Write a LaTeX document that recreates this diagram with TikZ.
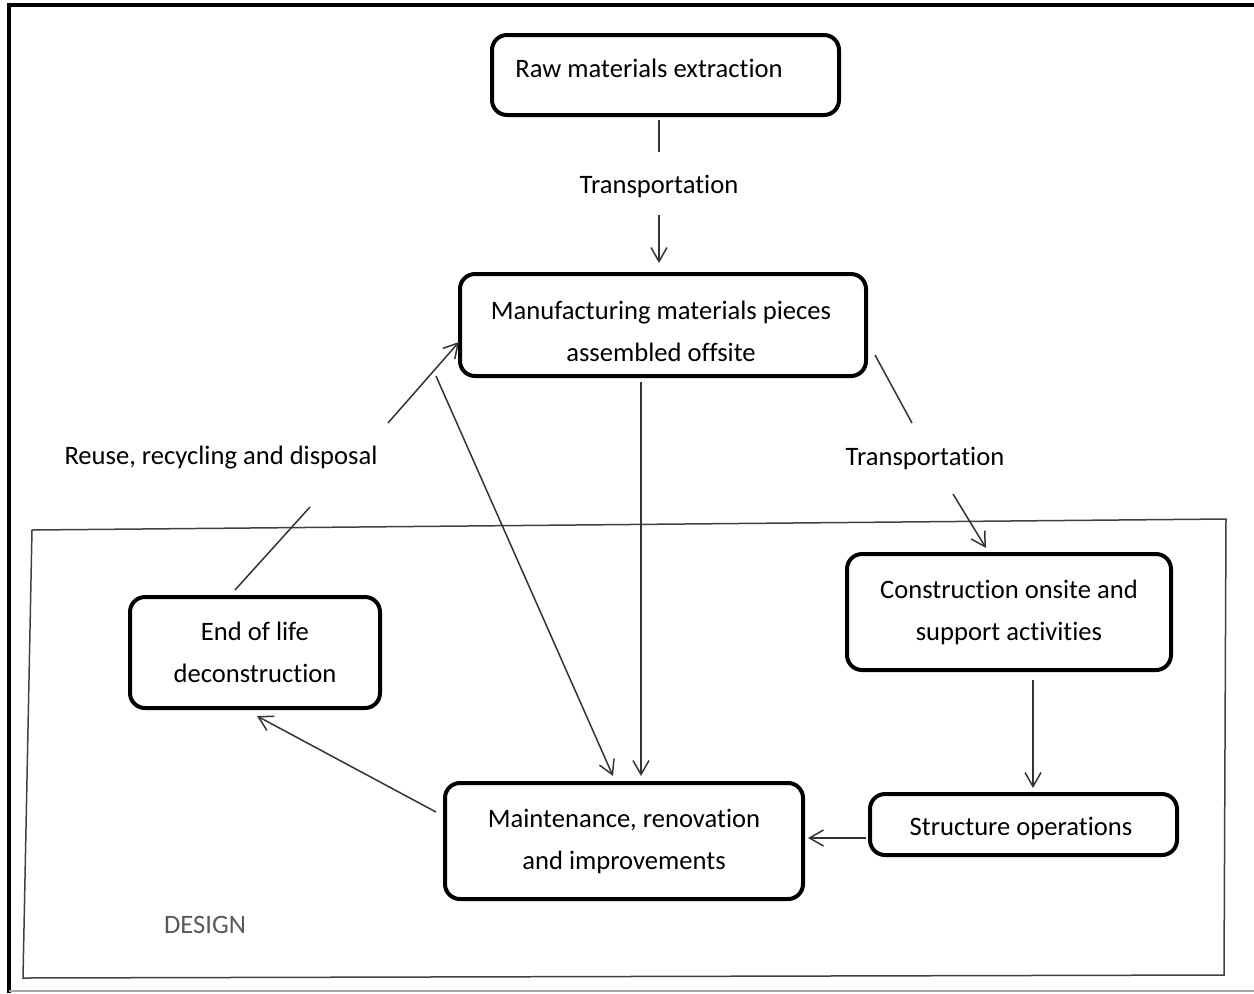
\documentclass[tikz,border=0pt]{standalone}
\usepackage{fontspec}
\setmainfont{Carlito}[Ligatures=NoCommon]
\usetikzlibrary{arrows.meta,calc}
\begin{document}
\begin{tikzpicture}[x=0.5pt,y=-0.5pt,
  every node/.style={font=\fontsize{13.3}{21}\selectfont, text=black},
  box/.style={draw=black, line width=2pt, rounded corners=7.5pt, inner sep=0pt, align=center},
  lbl/.style={inner sep=0pt, align=center},
  conn/.style={draw=black!80, line width=0.75pt},
  arr/.style={conn, -{Straight Barb[length=7pt,width=8pt,line width=0.75pt]}},
  frame/.style={draw=black, line width=2pt},
  design/.style={draw=black!75, line width=0.75pt}
]
\useasboundingbox (0,0) rectangle (1254,993);
% outer frame
\draw[frame] (9,993) -- (9,5) -- (1254,5);
\draw[draw=black!35, line width=0.6pt] (9,991) -- (1254,991);
% design area
\draw[design] (32,530) -- (1226,519) -- (1224,975) -- (23,978) -- cycle;
\node[lbl, text=black!65] (design) at (205,925) {DESIGN};

% boxes
\node[box, minimum width=173.5pt, minimum height=40pt] (raw) at (665.5,75) {};
\node[lbl] (rawtxt) at (649,68) {Raw materials extraction};
\node[box, minimum width=203pt, minimum height=51pt] (manu) at (663,325) {};
\node[lbl] (manutxt) at (661,331) {Manufacturing materials pieces\\ assembled offsite};
\node[box, minimum width=125pt, minimum height=55.5pt] (eol) at (255,652.5)
  {End of life\\ deconstruction};
\node[box, minimum width=162pt, minimum height=58pt] (cons) at (1009,612)
  {Construction onsite and\\ support activities};
\node[box, minimum width=153.5pt, minimum height=30.5pt] (struct) at (1023.5,824.5) {};
\node[lbl] (structtxt) at (1021,828) {Structure operations};
\node[box, minimum width=179pt, minimum height=58pt] (maint) at (624,841)
  {Maintenance, renovation\\ and improvements};

% labels
\node[lbl] (t1) at (659,186) {Transportation};
\node[lbl] (t2) at (925,458) {Transportation};
\node[lbl] (reuse) at (221,458) {Reuse, recycling and disposal};

% connectors
\draw[conn] ($(raw.south)+(-6.5,3)$) -- ($(t1.center)+(0,-34)$);
\draw[arr] ($(t1.center)+(0,29)$) -- ($(manu.north)+(-4,-9)$);
\draw[conn] ($(manu.east)+(7,30)$) -- ($(t2.center)+(-13,-35)$);
\draw[arr] ($(t2.center)+(28,36)$) -- ($(cons.north)+(-23,-4)$);
\draw[arr] ($(cons.south)+(24,8)$) -- ($(struct.north)+(9.5,-4)$);
\draw[arr] ($(struct.west)+(-2,13.5)$) -- ($(maint.east)+(3,-3)$);
\draw[arr] ($(maint.west)+(-7,-29)$) -- ($(eol.south)+(2,6)$);
\draw[conn] ($(eol.north)+(-20,-5)$) -- ($(reuse.center)+(89,49)$);
\draw[arr] ($(reuse.center)+(167,-35)$) -- ($(manu.west)+(1,17)$);
\draw[arr] ($(manu.south west)+(-22,-2)$) -- ($(maint.north)+(-11,-5)$);
\draw[arr] ($(manu.south)+(-22,4)$) -- ($(maint.north)+(17,-5)$);
\end{tikzpicture}
\end{document}
